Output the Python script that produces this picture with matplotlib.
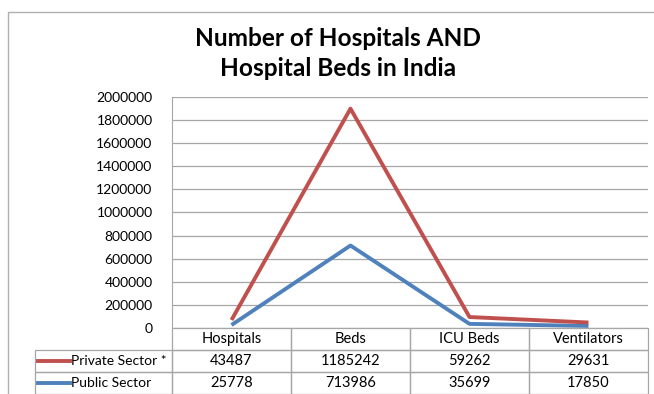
import matplotlib.pyplot as plt
from matplotlib.patches import Rectangle
from matplotlib.lines import Line2D
from matplotlib.transforms import Affine2D

categories = ['Hospitals', 'Beds', 'ICU Beds', 'Ventilators']
private = [43487, 1185242, 59262, 29631]
public = [25778, 713986, 35699, 17850]
series_names = ['Private Sector *', 'Public Sector']
yticks = list(range(0, 2000001, 200000))

red = '#C0504D'
blue = '#4F81BD'
grey = '#a6a6a6'
W, H = 654, 394

plt.rcParams['font.family'] = ['Lato', 'DejaVu Sans']

fig = plt.figure(figsize=(W / 100, H / 100), dpi=100)
# pixel coords measured from the top-left corner
pix = Affine2D().scale(1 / W, -1 / H).translate(0, 1) + fig.transFigure

# chart border (cut off at the right/bottom like the screenshot)
fig.patches.append(Rectangle((8, 12), 700, 420, transform=pix, fill=False,
                             edgecolor='#b0b0b0', linewidth=1))

left, right, top, bottom = 172, 648, 97, 328
ax = fig.add_axes([left / W, (H - bottom) / H, (right - left) / W, (bottom - top) / H])

x = list(range(len(categories)))
stacked = [a + b for a, b in zip(private, public)]  # excel stacked line
ax.plot(x, public, color=blue, linewidth=2.8, solid_capstyle='butt')
ax.plot(x, stacked, color=red, linewidth=2.8, solid_capstyle='butt')

ax.set_xlim(-0.5, 3.5)
ax.set_ylim(0, 2000000)
ax.set_yticks(yticks)
ax.set_yticklabels([str(t) for t in yticks], fontsize=10)
ax.set_xticks([])
ax.tick_params(axis='y', length=0, pad=14)
ax.yaxis.grid(True, color=grey, linewidth=0.9)
ax.set_axisbelow(True)
for s in ['top', 'right', 'bottom']:
    ax.spines[s].set_visible(False)
ax.spines['left'].set_color(grey)

# data table under the plot
row_h = 22
lab_x = 35
col_w = (right - left) / len(categories)
rows = [private, public]
colors = [red, blue]


def cell(x0, y0, w, txt, ha='center', tx=None, fs=10.5):
    fig.patches.append(Rectangle((x0, y0), w, row_h, transform=pix, fill=False,
                                 edgecolor=grey, linewidth=0.9))
    fig.text(x0 + w / 2 if tx is None else tx, y0 + row_h / 2, txt, transform=pix,
             ha=ha, va='center', fontsize=fs)


for j, cat in enumerate(categories):
    cell(left + j * col_w, bottom, col_w, cat)
for i, vals in enumerate(rows):
    y0 = bottom + row_h * (i + 1)
    cell(lab_x, y0, left - lab_x, series_names[i], ha='left', tx=71, fs=10)
    fig.lines.append(Line2D([38, 70], [y0 + row_h / 2] * 2, transform=pix,
                            color=colors[i], linewidth=2.8))
    for j, v in enumerate(vals):
        cell(left + j * col_w, y0, col_w, str(v))

fig.text(338, 38, 'Number of Hospitals AND', transform=pix, ha='center', va='center',
         fontsize=17.6, fontweight='bold')
fig.text(338, 68, 'Hospital Beds in India', transform=pix, ha='center', va='center',
         fontsize=17.6, fontweight='bold')

fig.savefig('out.png', dpi=100)
